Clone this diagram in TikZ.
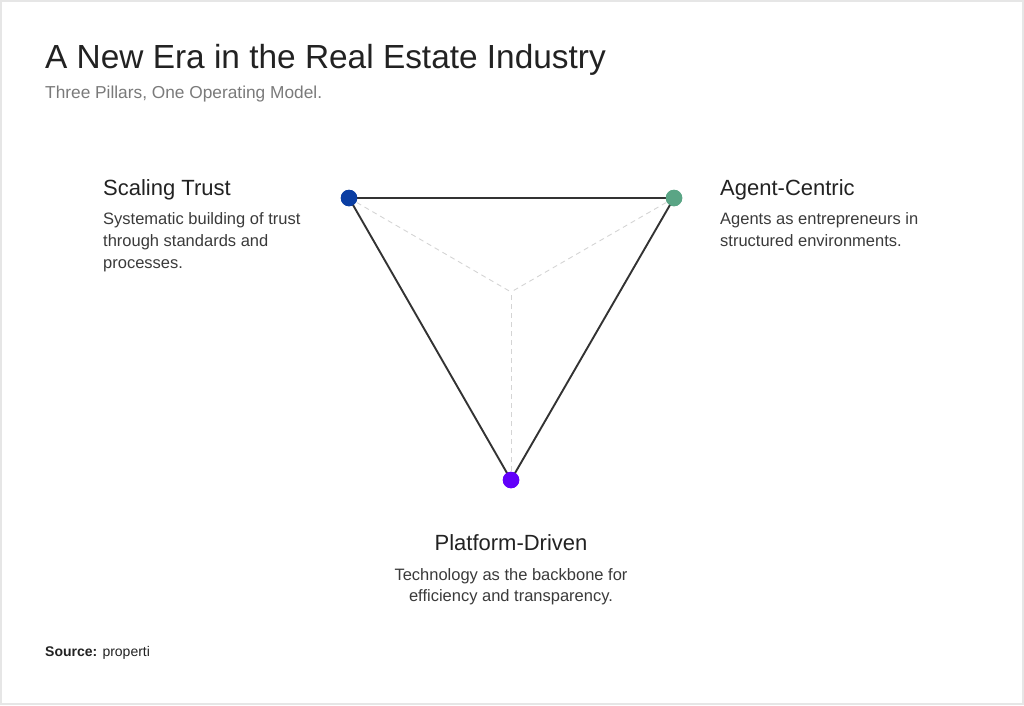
\documentclass[tikz,border=0pt]{standalone}
\usepackage{fontspec}
\setmainfont{Liberation Sans}
\definecolor{ttl}{HTML}{222222}
\definecolor{sub}{HTML}{7A7A7A}
\definecolor{dsc}{HTML}{3A3A3A}
\definecolor{edge}{HTML}{333333}
\definecolor{guide}{HTML}{D4D4D4}
\definecolor{frame}{HTML}{E6E6E6}
\definecolor{cblue}{HTML}{0B3EA3}
\definecolor{cgreen}{HTML}{5AA585}
\definecolor{cpurple}{HTML}{6200FA}
\begin{document}
\begin{tikzpicture}[x=1pt,y=-1pt,
  titletext/.style={anchor=base west,inner sep=0pt,text=ttl,font=\fontsize{33.4}{38}\selectfont},
  subtext/.style={anchor=base west,inner sep=0pt,text=sub,font=\fontsize{17.3}{21}\selectfont},
  headtext/.style={inner sep=0pt,text=ttl,font=\fontsize{22}{26}\selectfont},
  desctext/.style={inner sep=0pt,text=dsc,font=\fontsize{16.5}{22}\selectfont},
  dot/.style={circle,inner sep=0pt,minimum size=16.5pt},
  side/.style={draw=edge,line width=1.9pt},
  guideline/.style={draw=guide,line width=0.9pt,dash pattern=on 5pt off 4pt}]
\useasboundingbox (0,0) rectangle (1024,705);
\draw[frame,line width=2pt] (1,1) rectangle (1023,704);

\node[titletext] (title) at (45,68) {A New Era in the Real Estate Industry};
\node[subtext] (subtitle) at (45,98) {Three Pillars, One Operating Model.};

\coordinate (c) at (511,292);
\node[dot,fill=cblue] (trust) at (349,198) {};
\node[dot,fill=cgreen] (agent) at (674,198) {};
\node[dot,fill=cpurple] (platform) at (511,480) {};

\draw[guideline] (trust.center) -- (c);
\draw[guideline] (agent.center) -- (c);
\draw[guideline] (platform.center) -- (c);

\draw[side] (trust.center) -- (agent.center);
\draw[side] (agent.center) -- (platform.center);
\draw[side] (platform.center) -- (trust.center);

\node[dot,fill=cblue] at (trust) {};
\node[dot,fill=cgreen] at (agent) {};
\node[dot,fill=cpurple] at (platform) {};

\node[headtext,anchor=base west] (h1) at (103,195) {Scaling Trust};
\node[desctext,anchor=base west] (d1a) at (103,224) {Systematic building of trust};
\node[desctext,anchor=base west] (d1b) at (103,246) {through standards and};
\node[desctext,anchor=base west] (d1c) at (103,268) {processes.};

\node[headtext,anchor=base west] (h2) at (720,195) {Agent-Centric};
\node[desctext,anchor=base west] (d2a) at (720,224) {Agents as entrepreneurs in};
\node[desctext,anchor=base west] (d2b) at (720,246) {structured environments.};

\node[headtext,anchor=base] (h3) at (511,550) {Platform-Driven};
\node[desctext,anchor=base] (d3a) at (511,580) {Technology as the backbone for};
\node[desctext,anchor=base] (d3b) at (511,601) {efficiency and transparency.};

\node[anchor=base west,inner sep=0pt,text=ttl,font=\fontsize{14}{17}\selectfont] (src) at (45,656) {\textbf{Source:} properti};
\end{tikzpicture}
\end{document}
